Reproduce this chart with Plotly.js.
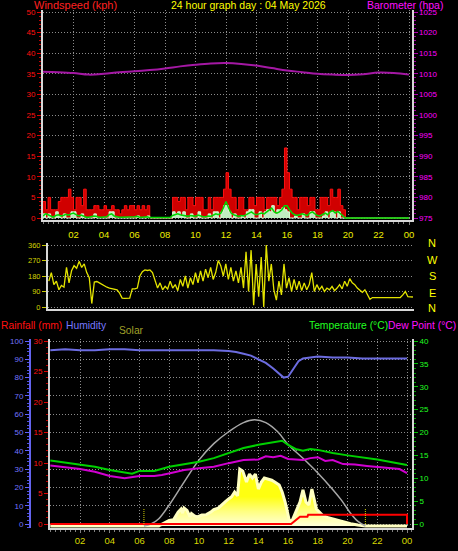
<!DOCTYPE html>
<html><head><meta charset="utf-8">
<script src="https://cdn.plot.ly/plotly-3.0.1.min.js"></script>
<style>html,body{margin:0;padding:0;background:#000;overflow:hidden}#chart{width:458px;height:551px}#err{position:absolute;left:0;top:200px;color:#fff;font:10px monospace;white-space:pre-wrap;width:458px}</style>
</head><body><div id="chart"></div><div id="err"></div><script>
window.onerror = function(m, s, l, c, e){ document.getElementById('err').textContent += 'ERR: ' + m + ' @' + l + ':' + c + '\n'; };
// ---------- DATA ----------
const hourTicks = [2,4,6,8,10,12,14,16,18,20,22,24];
const hourLabels = ['02','04','06','08','10','12','14','16','18','20','22','00'];
const sampleStepHours = 1/6; // 10-minute samples, starting 00:00

const gustKph = [4,2,5,2,2,2,4,5,5,5,7,5,2,5,5,3,7,2,2,2,3,3,2,2,3,2,2,3,2,2,1,2,3,2,3,3,2,3,2,3,2,3,
  0,0,0,0,0,0,0,0,0,
  5,5,4,5,5,2, 5,5,3,5,5,5, 2,2,5,2,5,5, 5,5,7,11,7,5, 5,2,5,5,2,2, 5,5,3,5,5,5,
  2,5,5,5,5,3, 5,7,17,11,7,5, 5,2,5,5,5,3, 5,5,2,2,5,5, 5,3,7,5,5,7, 3,2,
  0,0,0,0,0,0,0,0,0,0,0,0,0,0,0,0,0,0,0,0,0,0,0,0,0,0];
const windKph = [1,0,1,0,0,1.5,0.5,0,1,0,0,1.5,1.5,0,0,1,0,0,0,0,1,0,0,0,0,0,1.5,1.5,0,0,0,0,0,0,0,0,0,0.5,0,0,0,0.5,
  0,0,0,0,0,0,0,0,0,
  1.5,1,1.5,0.5,1.5,0, 0,1,0,0,1.5,0, 0,0,1,0,1.5,1.5, 0,1.5,3,3,1.5,0, 1,0,0,0.5,0,1.5, 2,2,0,0,1.5,0,
  1.5,2,1.5,3,1,2, 2,2.5,2,1.5,0,0, 0.5,0,0,1,0,0, 1.5,1.5,0,0,0,0.5, 1.5,0,1.5,1.5,0,1.5, 0,0,
  0,0,0,0,0,0,0,0,0,0,0,0,0,0,0,0,0,0,0,0,0,0,0,0,0,0];
const avgKph = [0.5,1,0.8,0.4,0.2,0.6,0.8,0.5,0.6,0.9,0.7,1.0,1.2,0.8,0.5,0.7,0.4,0.2,0.2,0.3,0.5,0.4,0.2,0.2,0.2,0.3,0.8,1.0,0.5,0.3,0.2,0.2,0.2,0.3,0.2,0.2,0.3,0.4,0.2,0.2,0.3,0.3,
  0.1,0.1,0.1,0.1,0.1,0.1,0.1,0.1,0.1,
  0.6,0.8,1.0,0.8,0.7,0.5, 0.4,0.6,0.5,0.4,0.7,0.5, 0.3,0.3,0.5,0.4,0.8,1.0, 0.8,1.2,2.5,4.0,2.5,1.2,
  0.8,0.5,0.4,0.6,0.5,0.8, 1.2,1.5,1.0,0.8,1.0,1.2, 1.0,1.5,2.0,2.4,1.5,1.2, 1.5,2.0,3.0,3.0,2.0,1.2,
  0.8,0.6,0.8,1.0,0.8,0.6, 1.2,1.5,1.0,0.6,0.5,0.8, 1.2,0.8,1.5,1.8,1.2,1.6, 1.0,0.5,
  0,0,0,0,0,0,0,0,0,0,0,0,0,0,0,0,0,0,0,0,0,0,0,0,0,0];
const windDirDeg = [150,200,130,150,100,125,115,230,140,210,240,225,
  265,230,250,200,170,20,145,148,140,130,124,115,
  110,107,105,100,80,52,50,50,52,105,105,110,
  180,205,215,212,215,200,160,110,140,100,120,105,
  150,110,130,95,160,120,180,110,170,130,200,140,
  210,150,220,170,230,160,200,270,240,180,250,160,
  230,150,210,140,230,110,320,90,330,10,250,60,
  290,0,360,150,250,100,40,150,70,250,110,170,
  90,160,100,150,95,140,100,130,200,90,130,100,
  120,90,110,100,120,95,110,130,105,150,120,165,
  140,130,110,100,85,100,70,45,55,55,55,55,
  55,55,55,55,55,55,55,55,70,90,60,58,
  58];
const baroHours = [0,1,2,3,4,5,6,7,8,9,10,11,12,13,14,15,16,17,18,19,20,21,22,23,24];
const baroHpa = [1010.5,1010.4,1010.2,1009.8,1010.0,1010.4,1010.6,1010.9,1011.3,1011.8,1012.2,1012.5,1012.6,1012.4,1012.0,1011.4,1010.8,1010.4,1010.0,1009.8,1009.7,1009.9,1010.3,1010.2,1009.8];

const tempHours = [0,1,2,3,4,5,5.5,6,7,8,9,10,11,12,13,14,15,15.6,16,16.5,17,17.5,18,19,20,21,22,23,24];
const tempC = [13.9,13.4,12.9,12.5,11.8,11.2,11.0,11.6,11.6,12.5,13.1,13.6,14.4,15.5,16.6,17.3,17.8,18.2,17.3,16.4,16.0,16.4,16.2,15.5,15.0,14.6,14.1,13.5,12.9];
const dewHours = [0,1,2,3,4,5,6,7,7.5,8.2,9,10,11,12,13,14,14.5,15,15.5,16,17,17.5,18,18.5,19,19.7,20.5,21.3,22.9,23.5,24];
const dewC = [12.8,12.4,12.0,11.4,10.5,10.0,10.5,10.5,10.7,11.2,11.8,12.2,12.5,13.3,14.0,14.1,14.8,14.6,14.9,14.2,14.0,14.4,14.6,13.8,14.0,13.1,13.0,12.7,12.2,12.0,11.1];
const humHours = [0,1,2,3,4,5,6,7,8,9,10,11,12,12.5,13,13.5,14,14.5,15,15.4,15.7,16,16.3,16.7,17,18,19,20,21,22,23,24];
const humPct = [95,95.5,95,95,95.5,95.5,95,95,95,95,95,95,94.5,94,93,92,90,88,85,82,80,80.5,84,89,90.5,91.5,91,91,90.5,90.5,90.5,90.5];
const solarHours = [0,7.3,7.4,7.7,8.0,8.3,8.6,8.8,8.9,9.0,9.2,9.4,9.5,9.7,9.9,10.2,10.5,10.8,11.0,11.3,
  11.5,11.8,12.0,12.2,12.4,12.6,12.75,12.95,13.2,13.4,13.6,13.8,14.0,14.2,14.4,14.7,14.9,15.1,15.4,
  15.6,15.8,16.0,16.1,16.3,16.5,16.8,17.0,17.2,17.4,17.6,17.9,18.3,18.7,19.2,19.7,20.2,20.7,21.2,24];
const solarWm2 = [0,0,5,16,30,35,76,93,70,98,85,50,68,55,50,60,62,76,90,98,
  115,135,148,160,185,165,311,300,240,284,262,284,202,240,262,257,250,240,224,
  186,131,60,22,35,76,131,197,131,115,202,93,60,45,33,22,12,5,0,0];
const solarMaxHours = [6.3,6.8,7.3,8,9,10,11,12,13,13.75,14.5,15.3,16,17,18,19,19.6,20.2,20.7,21.2];
const solarMaxWm2 = [0,12,40,115,240,360,450,515,565,580,565,515,445,370,290,200,140,70,25,0];
const rainHours = [0,16.2,16.8,17.3,17.35,24,24];
const rainMm = [0,0,1.2,1.2,1.5,1.5,0];
const sunHours = [6.3,21.2];

// ---------- HELPERS ----------
const W = 458, H = 551;
const px = x => x / W;
const py = y => 1 - y / H;
const sampleHours = gustKph.map((_, i) => i * sampleStepHours);
const FONT = 'Liberation Sans, Arial, sans-serif';
const GRID = '#8c8c8c', GDASH = '1px,2px', BORDER = '#d8d8d8';
const topDom = [py(220), py(10)];
const midDom = [py(309), py(243)];
const botDom = [py(528), py(339)];

const traces = [
  {x: sampleHours, y: gustKph, xaxis:'x', yaxis:'y', mode:'lines', line:{color:'#ff1010', width:1, shape:'hv'}, fill:'tozeroy', fillcolor:'#d00000'},
  {x: sampleHours, y: windKph, xaxis:'x', yaxis:'y', mode:'lines', line:{color:'#d8ffd8', width:1, shape:'hv'}, fill:'tozeroy', fillcolor:'#c0ecc0'},
  {x: sampleHours, y: avgKph, xaxis:'x', yaxis:'y', mode:'lines', line:{color:'#00d800', width:1.5}},
  {x: baroHours, y: baroHpa, xaxis:'x', yaxis:'y2', mode:'lines', line:{color:'#a418a4', width:2, shape:'spline'}},
  {x: sampleHours, y: windDirDeg, xaxis:'x2', yaxis:'y3', mode:'lines', line:{color:'#e4e400', width:1.3}},
  {x: solarHours, y: solarWm2, xaxis:'x3', yaxis:'y4', mode:'lines', line:{color:'#ffffc0', width:3}, fill:'tozeroy', fillcolor:'#ffff40',
   fillgradient:{type:'vertical', start:0, stop:160, colorscale:[[0,'#ffffd8'],[0.5,'#ffff80'],[1,'#ffff10']]}},
  {x: solarMaxHours, y: solarMaxWm2, xaxis:'x3', yaxis:'y4', mode:'lines', line:{color:'#a8a8a8', width:1.5, shape:'spline', smoothing:1}},
  {x: rainHours, y: rainMm, xaxis:'x3', yaxis:'y5', mode:'lines', line:{color:'#ff0000', width:2}},
  {x: humHours, y: humPct, xaxis:'x3', yaxis:'y6', mode:'lines', line:{color:'#6c6ce0', width:2}},
  {x: tempHours, y: tempC, xaxis:'x3', yaxis:'y7', mode:'lines', line:{color:'#00d000', width:2}},
  {x: dewHours, y: dewC, xaxis:'x3', yaxis:'y7', mode:'lines', line:{color:'#d000d0', width:2}}
];

const tf = (size, color) => ({family: FONT, size: size, color: color});

const layout = {
  width: W, height: H, margin:{l:0,r:0,t:0,b:0,pad:0},
  paper_bgcolor:'#000', plot_bgcolor:'#000', showlegend:false, hovermode:false,
  xaxis: {domain:[px(43), px(412)], range:[0, 24.197], anchor:'y', tickmode:'array', tickvals:hourTicks, ticktext:hourLabels,
    ticks:'outside', ticklen:3, tickcolor:'#808080', tickfont:tf(9.5,'#eeee00'), ticklabelstandoff:2,
    showgrid:true, gridcolor:GRID, griddash:GDASH, showline:true, linecolor:BORDER, linewidth:2, zeroline:false,
    minor:{tickmode:'linear', tick0:0, dtick:1/3, ticklen:2, tickcolor:'#808080', showgrid:false}},
  yaxis: {domain:topDom, range:[-0.485, 50.485], anchor:'x', tick0:0, dtick:5,
    ticks:'outside', ticklen:4, tickcolor:'#e00000', tickfont:tf(8,'#ff1010'),
    showgrid:true, gridcolor:GRID, griddash:GDASH, showline:true, linecolor:BORDER, linewidth:2, zeroline:false,
    minor:{tick0:0, dtick:1, ticklen:2, tickcolor:'#c00000', showgrid:false}},
  yaxis2: {domain:topDom, overlaying:'y', side:'right', anchor:'x', range:[974.515, 1025.485], tick0:975, dtick:5,
    ticks:'outside', ticklen:4, tickcolor:'#b000b0', tickfont:tf(8,'#ff00ff'),
    showgrid:false, showline:true, linecolor:BORDER, linewidth:1.5, zeroline:false,
    minor:{tick0:975, dtick:1, ticklen:2, tickcolor:'#a000a0', showgrid:false}},
  xaxis2: {domain:[px(48), px(414)], range:[-0.053, 24.07], anchor:'y3', showticklabels:false, ticks:'',
    showgrid:false, showline:true, linecolor:BORDER, linewidth:2, zeroline:false},
  yaxis3: {domain:midDom, range:[-11.6, 371.6], anchor:'x2', tickmode:'array', tickvals:[0,90,180,270,360],
    ticks:'outside', ticklen:4, tickcolor:'#c8c800', tickfont:tf(7.5,'#d4d400'),
    showgrid:true, gridcolor:GRID, griddash:GDASH, showline:true, linecolor:BORDER, linewidth:2, zeroline:false},
  xaxis3: {domain:[px(50), px(412)], range:[-0.02, 24.336], anchor:'y4', tickmode:'array', tickvals:hourTicks, ticktext:hourLabels,
    ticks:'outside', ticklen:3, tickcolor:'#808080', tickfont:tf(9.5,'#d8d800'),
    showgrid:true, gridcolor:GRID, griddash:GDASH, showline:true, linecolor:BORDER, linewidth:2, zeroline:false,
    minor:{tickmode:'linear', tick0:0, dtick:1/3, ticklen:2, tickcolor:'#808080', showgrid:false}},
  // solar (hidden scale, zero sits 2px under the other zeros); its grid gives the 10 % humidity lines
  yaxis4: {domain:botDom, range:[-10.93, 1021.9], anchor:'x3', tick0:10.93, dtick:100,
    showticklabels:false, ticks:'', showgrid:true, gridcolor:GRID, griddash:GDASH, showline:false, zeroline:false},
  yaxis5: {domain:botDom, overlaying:'y4', anchor:'x3', side:'left', range:[-0.656, 30.328], tick0:0, dtick:5,
    ticks:'outside', ticklen:4, tickcolor:'#e00000', tickfont:tf(8,'#ff1010'),
    showgrid:false, showline:true, linecolor:BORDER, linewidth:2, zeroline:false,
    minor:{tick0:0, dtick:1, ticklen:2, tickcolor:'#c00000', showgrid:false}},
  yaxis6: {domain:botDom, overlaying:'y4', anchor:'free', position:px(30), side:'left', range:[-2.186, 101.093], tick0:0, dtick:10,
    ticks:'outside', ticklen:4, tickcolor:'#6060ff', tickfont:tf(8,'#7474ff'),
    showgrid:false, showline:true, linecolor:'#6464f0', linewidth:2, zeroline:false,
    minor:{tick0:0, dtick:2, ticklen:2, tickcolor:'#5050e0', showgrid:false}},
  yaxis7: {domain:botDom, overlaying:'y4', anchor:'x3', side:'right', range:[-0.874, 40.437], tick0:0, dtick:5,
    ticks:'outside', ticklen:4, tickcolor:'#00c000', tickfont:tf(8,'#20ff20'),
    showgrid:false, showline:true, linecolor:BORDER, linewidth:2, zeroline:false,
    minor:{tick0:0, dtick:1, ticklen:2, tickcolor:'#00a000', showgrid:false}},
  shapes: sunHours.map(h => ({type:'line', xref:'x3', yref:'paper', x0:h, x1:h, y0:py(524), y1:py(508),
    line:{color:'#d0d000', width:1, dash:'1px,1px'}})),
  annotations: []
};

const ann = (text, x, y, size, color, xanchor) => layout.annotations.push({
  text: text, xref:'paper', yref:'paper', x: px(x), y: py(y), xanchor: xanchor || 'left', yanchor:'middle',
  showarrow:false, font: tf(size, color), borderpad:0
});
ann('Windspeed (kph)', 33, 5.5, 11, '#ff2020');
ann('24 hour graph day : 04 May 2026', 170, 5.5, 10.5, '#ffff00');
ann('Barometer (hpa)', 366, 5.5, 10.5, '#ff10ff');
['N','W','S','E','N'].forEach((t, i) => ann(t, 432, [243, 259.5, 276, 292.5, 308][i], 11, '#ffff00', 'center'));
ann('Rainfall (mm)', 0, 325, 10.3, '#ff1010');
ann('Humidity', 65, 325, 10.3, '#7878ff');
ann('Solar', 118, 330, 10.3, '#a0a028');
ann('Temperature (°C)', 308, 325, 10.3, '#20ff20');
ann('Dew Point (°C)', 387, 325, 10.3, '#ff10ff');

try {
  Plotly.newPlot('chart', traces, layout, {staticPlot:true, displayModeBar:false})
    .catch(e => { document.getElementById('err').textContent += 'PROMISE: ' + e + '\n'; });
} catch (e) { document.getElementById('err').textContent += 'CATCH: ' + e + '\n' + (e.stack||''); }
</script></body></html>
